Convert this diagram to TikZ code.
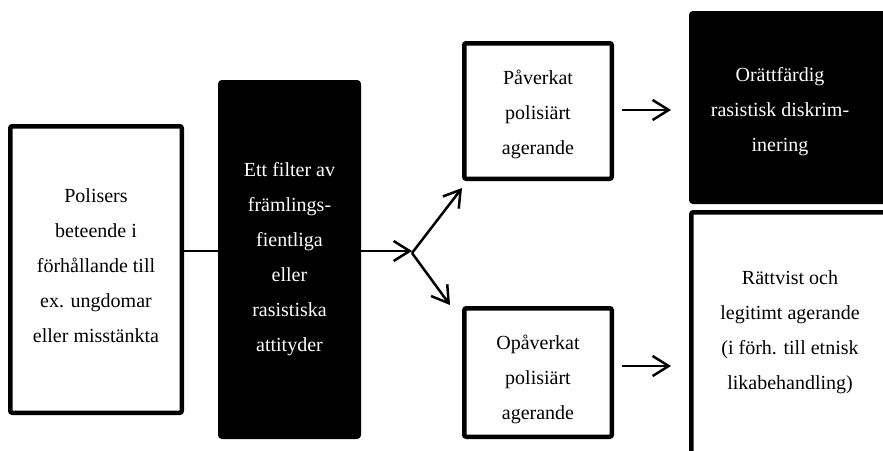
\documentclass[tikz,border=0pt]{standalone}
\usepackage{fontspec}
\setmainfont{Liberation Serif}
\usetikzlibrary{arrows.meta}
\begin{document}
\begin{tikzpicture}[x=1pt,y=-1pt,
  box/.style={draw=black, line width=4.5pt, rounded corners=2pt, inner sep=0pt, fill=white},
  darkbox/.style={box, fill=black},
  txt/.style={align=center, font=\fontsize{20}{35}\selectfont, inner sep=0pt},
  wtxt/.style={txt, text=white},
  link/.style={line width=2.5pt},
  arr/.style={link, -{Straight Barb[length=16pt,width=20pt]}}]
\useasboundingbox (0,0) rectangle (883,450);
\clip (0,0) rectangle (883,450);
% boxes
\node[box, minimum width=171.5pt, minimum height=286.5pt] (pol) at (96,269.5) {};
\node[darkbox, minimum width=138.5pt, minimum height=354.5pt] (fil) at (289.5,259.5) {};
\node[box, minimum width=147.5pt, minimum height=135.5pt] (pav) at (538,111) {};
\node[box, minimum width=147.5pt, minimum height=128.5pt] (opa) at (538,372.5) {};
\node[darkbox, minimum width=226.5pt, minimum height=188.5pt] (ora) at (804.5,107.5) {};
\node[box, minimum width=226.5pt, minimum height=265.5pt] (rat) at (804.5,345) {};
% texts
\node[txt] (tpol) at (96,266) {Polisers\\beteende i\\förhållande till\\ex. ungdomar\\eller misstänkta};
\node[wtxt] (tfil) at (289.5,259) {Ett filter av\\främlings-\\fientliga\\eller\\rasistiska\\attityder};
\node[txt] (tpav) at (538,114) {Påverkat\\polisiärt\\agerande};
\node[txt] (topa) at (538,379) {Opåverkat\\polisiärt\\agerande};
\node[wtxt] (tora) at (780,112) {Orättfärdig\\rasistisk diskrim-\\inering};
\node[txt] (trat) at (790,332) {Rättvist och\\legitimt agerande\\(i förh. till etnisk\\likabehandling)};
% connectors
\coordinate (lvl) at (0,251);
\coordinate (fork) at (412,253);
\coordinate (upTip) at (462,188);
\coordinate (downTip) at (450,305);
\draw[link] (pol.east |- lvl) -- (fil.west |- lvl);
\draw[arr] (fil.east |- lvl) -- (fork |- lvl);
\draw[arr] (fork) -- (upTip);
\draw[arr] (fork) -- (downTip);
\draw[arr] ([xshift=8pt,yshift=1pt]pav.east) -- ([xshift=-18pt,yshift=1pt]pav.east -| ora.west);
\draw[arr] ([xshift=8pt,yshift=6.5pt]opa.east) -- ([xshift=-18pt,yshift=6.5pt]opa.east -| rat.west);
\end{tikzpicture}
\end{document}
